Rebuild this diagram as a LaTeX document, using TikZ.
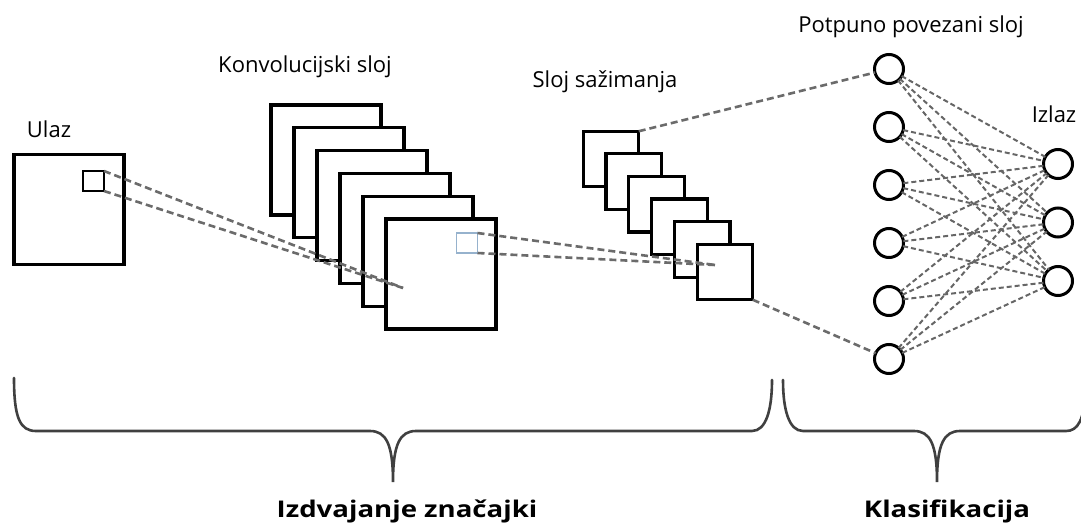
\documentclass[tikz,border=0pt]{standalone}
\usepackage{fontspec}
\setmainfont{Open Sans}
\newfontfamily\sirokbold[FakeStretch=1.2,BoldFont={Open Sans Bold}]{Open Sans}
\begin{document}
\begin{tikzpicture}[x=1pt,y=-1pt,
  okvir/.style={draw,line width=3.2pt,fill=white,inner sep=0pt,outer sep=0pt,minimum size=#1},
  filtar/.style={draw,line width=1.9pt,inner sep=0pt,outer sep=0pt,minimum width=21pt,minimum height=20pt},
  neuron/.style={circle,draw,line width=3pt,fill=white,inner sep=0pt,outer sep=0pt,minimum size=29pt},
  veza/.style={draw=black!58,line width=2.6pt,dash pattern=on 7pt off 4pt},
  vezafc/.style={draw=black!60,line width=2pt,dash pattern=on 5pt off 3pt},
  natpis/.style={anchor=base,font=\fontsize{22}{26}\selectfont},
  naslov/.style={anchor=base,font=\sirokbold\fontsize{23}{28}\selectfont\bfseries},
  zagrada/.style={draw=black!75,line width=2.6pt,line cap=round}]

  \useasboundingbox (0,0) rectangle (1081,524);

  \begin{scope}   % ulaz i konvolucija

    \node[okvir=110pt] (U) at (69,209.5) {};
    \node[filtar] (F) at (93.5,181) {};
    \node[natpis] (tU) at (49,137) {Ulaz};

    \def\Kx{326};
    \def\Ky{160};
    \foreach \i in {0,...,5}
      \node[okvir=110pt] (K\i) at ({\Kx+23*\i},{\Ky+22.8*\i}) {};
    \node[natpis] (tK) at (305,73) {Konvolucijski sloj};

    \coordinate (C) at (403,288);
    \draw[veza] (F.north east)--(C);
    \draw[veza] (F.south east)--(C);

    \node[filtar,draw={rgb,255:red,150;green,178;blue,205}] (G) at (467,243) {};

  \end{scope}

  \begin{scope}   % sazimanje

    \def\Px{611};
    \def\Py{159};
    \foreach \i in {0,...,5}
      \node[okvir=55.5pt] (P\i) at ({\Px+22.8*\i},{\Py+22.6*\i}) {};
    \node[natpis] (tP) at (605,88) {Sloj sažimanja};

    \coordinate (D) at (715,265);
    \draw[veza] (G.north east)--(D);
    \draw[veza] (G.south east)--(D);

  \end{scope}

  \begin{scope}   % potpuno povezani sloj i izlaz

    \foreach \i in {0,...,5}
      \node[neuron] (H\i) at (889,{69+58*\i}) {};
    \foreach \j in {0,...,2}
      \node[neuron] (O\j) at (1058,{164+58.5*\j}) {};

    \foreach \i in {0,...,5}
      \foreach \j in {0,...,2}
        \draw[vezafc] (H\i)--(O\j);

    \draw[veza] (P0.north east)--(H0);
    \draw[veza] (P5.south east)--(H5);

    \node[natpis] (tH) at (911,33) {Potpuno povezani sloj};
    \node[natpis] (tO) at (1054,123) {Izlaz};

  \end{scope}

  % zagrade
  \draw[zagrada] (14,378) .. controls (14,418) and (20,431) .. (36,431)
     -- (370,431) .. controls (386,431) and (393,444) .. (393,482)
     .. controls (393,444) and (400,431) .. (416,431)
     -- (752,431) .. controls (766,431) and (772,410) .. (772,380);
  \draw[zagrada] (783,380) .. controls (783,410) and (789,431) .. (803,431)
     -- (914,431) .. controls (930,431) and (937,444) .. (937,482)
     .. controls (937,444) and (944,431) .. (960,431)
     -- (1066,431) .. controls (1078,431) and (1084,420) .. (1086,390);

  \node[naslov] (tI) at (407,517) {Izdvajanje značajki};
  \node[naslov] (tS) at (947,517) {Klasifikacija};

\end{tikzpicture}
\end{document}
